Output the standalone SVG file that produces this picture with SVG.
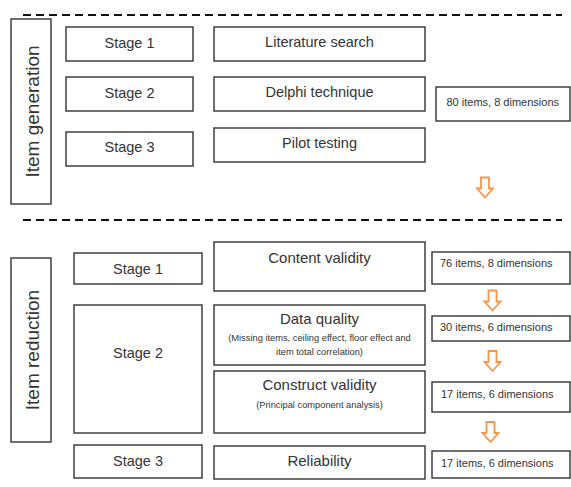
<svg xmlns="http://www.w3.org/2000/svg" width="571" height="487" viewBox="0 0 571 487">
<defs>
<style>
.b{fill:#fff;stroke:#333;stroke-width:1.4}
.t{font-family:"Liberation Sans",Arial,sans-serif;fill:#333;text-anchor:middle}
.s{font-size:14.5px}
.m{font-size:15px}
.n{font-size:11px;text-anchor:start}
.p{font-size:9.3px}
.v{font-size:19px}
.d{stroke:#111;stroke-width:2;stroke-dasharray:8,5;fill:none}
.a{fill:#fff;stroke:#F79646;stroke-width:1.8;stroke-linejoin:miter}
</style>
<path id="arr" d="M-4,0 H4 V11 H8 L0,20 L-8,11 H-4 Z"/>
</defs>
<g id="dividers">
<line class="d" x1="23" y1="15" x2="562" y2="15"/>
<line class="d" x1="23" y1="220" x2="562" y2="220"/>
</g>
<g id="item-generation">
<rect class="b" x="11" y="19" width="40" height="185"/>
<text class="t v" transform="translate(39,111.5) rotate(-90)">Item generation</text>
</g>
<g id="gen-stage1"><rect class="b" x="66" y="27" width="127" height="34"/><text class="t s" x="129.5" y="47.5">Stage 1</text></g>
<g id="gen-stage2"><rect class="b" x="66" y="77" width="127" height="34"/><text class="t s" x="129.5" y="97.5">Stage 2</text></g>
<g id="gen-stage3"><rect class="b" x="66" y="132" width="127" height="34"/><text class="t s" x="129.5" y="152">Stage 3</text></g>
<g id="literature"><rect class="b" x="214" y="27" width="211" height="34"/><text class="t s" x="319.5" y="47">Literature search</text></g>
<g id="delphi"><rect class="b" x="214" y="77" width="211" height="34"/><text class="t s" x="319.5" y="97">Delphi technique</text></g>
<g id="pilot"><rect class="b" x="214" y="128" width="211" height="34"/><text class="t s" x="319.5" y="147.5">Pilot testing</text></g>
<g id="n80"><rect class="b" x="436" y="87" width="134" height="34"/><text class="t n" x="446.5" y="106">80 items, 8 dimensions</text></g>

<g id="item-reduction">
<rect class="b" x="11" y="258" width="40" height="184"/>
<text class="t v" transform="translate(39,350) rotate(-90)">Item reduction</text>
</g>
<g id="red-stage1"><rect class="b" x="74" y="253" width="128" height="31"/><text class="t s" x="138" y="273.5">Stage 1</text></g>
<g id="red-stage2"><rect class="b" x="74" y="305" width="128" height="128"/><text class="t s" x="138" y="358">Stage 2</text></g>
<g id="red-stage3"><rect class="b" x="74" y="445" width="128" height="33"/><text class="t s" x="138" y="465.5">Stage 3</text></g>
<g id="content"><rect class="b" x="214" y="242" width="211" height="49"/><text class="t m" x="319.5" y="263">Content validity</text></g>
<g id="dataquality"><rect class="b" x="214" y="305" width="211" height="60"/><text class="t m" x="319.5" y="324">Data quality</text><text class="t p" x="319.5" y="341">(Missing items, ceiling effect, floor effect and</text><text class="t p" x="319.5" y="355">item total correlation)</text></g>
<g id="construct"><rect class="b" x="214" y="371" width="211" height="62"/><text class="t m" x="319.5" y="390">Construct validity</text><text class="t p" x="319.5" y="408">(Principal component analysis)</text></g>
<g id="reliability"><rect class="b" x="214" y="446" width="211" height="33"/><text class="t m" x="319.5" y="465.5">Reliability</text></g>
<g id="n76"><rect class="b" x="432" y="252" width="138" height="32"/><text class="t n" x="440" y="267">76 items, 8 dimensions</text></g>
<g id="n30"><rect class="b" x="432" y="316" width="138" height="25"/><text class="t n" x="440" y="331">30 items, 6 dimensions</text></g>
<g id="n17a"><rect class="b" x="432" y="382" width="138" height="30"/><text class="t n" x="441" y="398">17 items, 6 dimensions</text></g>
<g id="n17b"><rect class="b" x="432" y="451" width="138" height="27"/><text class="t n" x="441" y="466.5">17 items, 6 dimensions</text></g>

<g id="connectors">
<use href="#arr" class="a" transform="translate(485,177.5)"/>
<use href="#arr" class="a" transform="translate(492.5,290.5)"/>
<use href="#arr" class="a" transform="translate(492.5,351)"/>
<use href="#arr" class="a" transform="translate(490.5,422)"/>
</g>
</svg>
